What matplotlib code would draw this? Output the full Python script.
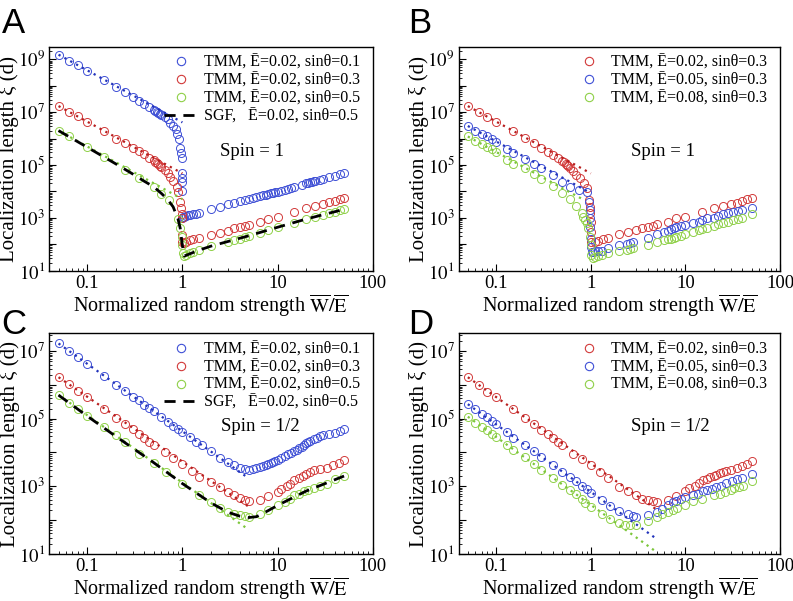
import math
import matplotlib
matplotlib.use('Agg')
import matplotlib.pyplot as plt
from matplotlib.lines import Line2D
from matplotlib.ticker import LogLocator, FixedLocator, FuncFormatter, NullFormatter

plt.rcParams['font.family'] = ['Liberation Serif', 'DejaVu Serif']
plt.rcParams['mathtext.fontset'] = 'stix'

# ---------------- DATA ---------------- #
# Panel A: spin 1, E=0.02, sin(theta) = 0.1 / 0.3 / 0.5
a_blue_x = [0.05, 0.065, 0.08, 0.1, 0.15, 0.2, 0.25, 0.3, 0.35, 0.4, 0.45, 0.5, 0.52, 0.54, 0.56, 0.58,
            0.6, 0.65, 0.7, 0.75, 0.8, 0.85, 0.88, 0.92, 0.95, 0.97, 0.98, 1.0, 1.0, 1.0, 1.0, 1.0, 1.02,
            1.05, 1.1, 1.15, 1.2, 1.3, 1.4, 1.5, 2, 2.5, 3, 3.5, 4, 4.5, 5, 5.5, 6, 6.5, 7, 7.5, 8, 8.5,
            9, 9.5, 10, 11, 12, 13, 14, 15, 18, 20, 21, 22, 23, 24, 25, 28, 30, 35, 40, 45, 50]
a_blue_y = [1.5e9, 9.0e8, 5.9e8, 3.7e8, 1.7e8, 9.2e7, 5.8e7, 3.8e7, 2.7e7, 2.0e7, 1.55e7, 1.2e7, 1.1e7,
            1.0e7, 9.3e6, 8.6e6, 8.0e6, 6.8e6, 5.3e6, 4.0e6, 3.0e6, 2.3e6, 1.5e6, 9.3e5, 4.3e5, 2.9e5,
            1.8e5, 4.8e4, 3.3e4, 2.3e4, 1.0e4, 1.0e3, 1.05e3, 1.12e3, 1.2e3, 1.26e3, 1.32e3, 1.38e3,
            1.45e3, 1.55e3, 2.14e3, 2.63e3, 3.24e3, 3.72e3, 4.27e3, 4.79e3, 5.37e3, 5.75e3, 6.31e3,
            6.76e3, 7.24e3, 7.59e3, 8.13e3, 8.51e3, 8.91e3, 9.33e3, 9.77e3, 1.07e4, 1.17e4, 1.26e4,
            1.35e4, 1.45e4, 1.78e4, 2.0e4, 2.09e4, 2.19e4, 2.29e4, 2.4e4, 2.51e4, 2.75e4, 2.88e4,
            3.39e4, 3.89e4, 4.37e4, 4.9e4]
a_red_x = [0.05, 0.065, 0.08, 0.1, 0.15, 0.2, 0.25, 0.3, 0.35, 0.4, 0.45, 0.5, 0.52, 0.54, 0.56, 0.58,
           0.6, 0.65, 0.7, 0.75, 0.8, 0.87, 0.9, 0.95, 0.97, 0.98, 1.0, 1.0, 1.0, 1.05, 1.1, 1.2, 1.3,
           1.5, 2, 2.5, 3, 3.5, 4, 4.5, 5, 6.5, 8, 10, 15, 20, 25, 30, 35, 40, 45, 50]
a_red_y = [1.7e7, 1.05e7, 7.3e6, 4.3e6, 1.9e6, 1.0e6, 6.6e5, 4.5e5, 3.4e5, 2.5e5, 1.9e5, 1.5e5, 1.35e5,
           1.2e5, 1.1e5, 9.5e4, 8.5e4, 6.5e4, 4.8e4, 3.6e4, 2.4e4, 1.5e4, 9.6e3, 4.0e3, 2.3e3, 1.35e3,
           950, 220, 120, 115, 117, 145, 160, 166, 220, 270, 320, 400, 450, 490, 530, 700, 890, 1.1e3,
           1.7e3, 2.3e3, 2.8e3, 3.3e3, 4.0e3, 4.5e3, 5.1e3, 5.8e3]
a_green_x = [0.05, 0.065, 0.1, 0.15, 0.25, 0.35, 0.5, 0.6, 0.72, 0.9, 0.95, 0.98, 1.0, 1.02, 1.05, 1.1,
             1.2, 1.3, 1.5, 2, 3, 3.5, 4, 4.5, 5, 6.5, 8, 10, 15, 20, 25, 30, 35, 40, 45, 50]
a_green_y = [2.0e6, 1.2e6, 4.7e5, 2.0e5, 6.5e4, 3.1e4, 1.5e4, 8.3e3, 4.7e3, 900, 400, 190, 93, 45, 36,
             40, 45, 50, 62, 85, 125, 145, 165, 185, 210, 270, 340, 440, 660, 870, 1.1e3, 1.3e3, 1.5e3,
             1.7e3, 1.9e3, 2.1e3]
a_sgf_x = [0.05, 0.1, 0.2, 0.3, 0.4, 0.5, 0.6, 0.7, 0.8, 0.9, 0.95, 1.0, 1.05, 1.5, 2, 5, 10, 20, 50]
a_sgf_y = [2.0e6, 4.7e5, 1.1e5, 4.6e4, 2.4e4, 1.5e4, 8.5e3, 5.0e3, 2.6e3, 900, 400, 90, 36, 60, 85, 210,
           440, 900, 2.1e3]
a_fit_x = [0.05, 1.0]
a_fit_blue = [1.5e9, 4.1e6]
a_fit_red = [1.7e7, 4.8e4]
a_fit_green = [2.0e6, 5.1e3]

# Panel B: spin 1, sin(theta)=0.3, E = 0.02 / 0.05 / 0.08
b_red_x = [0.05, 0.065, 0.08, 0.1, 0.15, 0.2, 0.25, 0.3, 0.35, 0.4, 0.45, 0.5, 0.52, 0.54, 0.56, 0.58,
           0.6, 0.65, 0.7, 0.77, 0.85, 0.9, 0.95, 0.97, 0.99, 1.0, 1.0, 1.0, 1.1, 1.2, 1.33, 1.5, 2, 2.5,
           3, 3.5, 4, 4.5, 5, 6.5, 8, 10, 15, 20, 25, 30, 35, 40, 45, 50]
b_red_y = [1.7e7, 1.05e7, 6.7e6, 4.4e6, 1.9e6, 1.07e6, 6.9e5, 4.5e5, 3.2e5, 2.4e5, 1.8e5, 1.4e5, 1.25e5,
           1.1e5, 1.0e5, 9.0e4, 8.0e4, 6.0e4, 4.2e4, 3.1e4, 2.0e4, 1.3e4, 4.7e3, 2.6e3, 1.5e3, 700, 300,
           120, 117, 130, 155, 175, 235, 295, 340, 400, 450, 500, 560, 700, 950, 1.1e3, 1.7e3, 2.3e3,
           2.8e3, 3.2e3, 3.7e3, 4.3e3, 5.0e3, 5.8e3]
b_blue_x = [0.05, 0.06, 0.07, 0.08, 0.09, 0.1, 0.13, 0.15, 0.2, 0.25, 0.3, 0.4, 0.5, 0.6, 0.75, 0.9,
            0.95, 0.97, 0.98, 0.99, 1.0, 1.0, 1.02, 1.05, 1.1, 1.2, 1.3, 1.5, 2, 2.4, 2.6, 2.8, 4, 5, 6,
            6.5, 7, 7.5, 8, 9, 10, 12, 14, 15, 17, 20, 22, 25, 28, 32, 36, 40, 50]
b_blue_y = [3.0e6, 1.9e6, 1.5e6, 1.2e6, 9.3e5, 7.2e5, 3.9e5, 2.8e5, 1.7e5, 1.07e5, 7.4e4, 4.2e4, 2.3e4,
            1.5e4, 1.1e4, 9.6e3, 4.0e3, 2.0e3, 1.0e3, 450, 160, 80, 49, 49, 54, 54, 55, 72, 93, 100, 113,
            123, 175, 235, 295, 330, 370, 400, 450, 490, 530, 620, 710, 810, 950, 1.0e3, 1.15e3, 1.35e3,
            1.5e3, 1.7e3, 1.85e3, 1.95e3, 2.4e3]
b_green_x = [0.05, 0.06, 0.07, 0.08, 0.09, 0.1, 0.13, 0.15, 0.2, 0.25, 0.3, 0.4, 0.5, 0.6, 0.7, 0.8,
             0.83, 0.86, 0.9, 0.93, 0.97, 1.0, 1.0, 1.05, 1.1, 1.2, 1.3, 1.5, 2, 2.4, 2.6, 2.8, 4, 5, 6,
             6.5, 7, 7.5, 8, 9, 10, 12, 14, 15, 17, 20, 22, 25, 28, 32, 36, 40, 50]
b_green_y = [1.2e6, 8.1e5, 6.2e5, 4.9e5, 3.9e5, 3.0e5, 1.5e5, 1.07e5, 7.4e4, 4.4e4, 2.9e4, 1.6e4, 8.8e3,
             5.1e3, 2.8e3, 1.5e3, 1.1e3, 810, 620, 400, 190, 93, 39, 30, 33, 35, 39, 45, 55, 60, 65, 72,
             93, 117, 140, 155, 165, 180, 190, 210, 235, 290, 340, 370, 420, 500, 560, 640, 720, 820,
             920, 1.0e3, 1.38e3]
b_fit_red_x, b_fit_red = [0.05, 1.0], [1.7e7, 4.8e4]
b_fit_blue_x, b_fit_blue = [0.05, 0.95], [3.0e6, 9.5e3]
b_fit_green_x, b_fit_green = [0.05, 0.85], [1.2e6, 4.7e3]

# Panel C: spin 1/2, E=0.02, sin(theta) = 0.1 / 0.3 / 0.5
c_blue_x = [0.05, 0.065, 0.08, 0.1, 0.15, 0.2, 0.25, 0.3, 0.35, 0.4, 0.45, 0.5, 0.6, 0.7, 0.8, 0.9, 1.0,
            1.2, 1.4, 1.6, 2, 2.5, 3, 3.5, 4, 4.5, 5, 5.5, 6, 6.5, 7, 7.5, 8, 8.5, 9, 9.5, 10, 11, 12,
            13, 14, 15, 16, 17, 18, 19, 20, 21, 22, 24, 26, 28, 30, 35, 40, 45, 50]
c_blue_y = [1.7e7, 1.05e7, 6.7e6, 4.3e6, 1.9e6, 1.02e6, 6.8e5, 4.5e5, 3.5e5, 2.6e5, 2.1e5, 1.7e5, 1.14e5,
            8.2e4, 6.3e4, 5.0e4, 4.0e4, 2.9e4, 2.1e4, 1.7e4, 1.1e4, 7.0e3, 5.3e3, 4.2e3, 3.5e3, 3.2e3,
            3.1e3, 3.2e3, 3.4e3, 3.6e3, 3.9e3, 4.2e3, 4.6e3, 5.0e3, 5.3e3, 5.6e3, 6.0e3, 6.8e3, 7.8e3,
            8.8e3, 9.8e3, 1.1e4, 1.2e4, 1.35e4, 1.5e4, 1.7e4, 1.9e4, 2.0e4, 2.2e4, 2.5e4, 2.7e4, 3.0e4,
            3.2e4, 3.5e4, 3.9e4, 4.4e4, 5.0e4]
c_red_x = [0.05, 0.065, 0.08, 0.1, 0.15, 0.2, 0.25, 0.3, 0.35, 0.4, 0.45, 0.5, 0.65, 0.8, 1.0, 1.25, 1.5,
           2, 2.5, 3, 3.5, 4, 4.5, 5, 6.5, 8, 10, 11, 12.5, 13.5, 15, 17, 18.5, 20, 22, 24, 28, 33, 38,
           44, 50]
c_red_y = [1.7e6, 1.07e6, 6.8e5, 4.4e5, 1.9e5, 1.02e5, 6.9e4, 4.9e4, 3.5e4, 2.7e4, 2.1e4, 1.7e4, 1.05e4,
           7.0e3, 4.7e3, 2.9e3, 1.9e3, 1.3e3, 940, 670, 540, 450, 380, 360, 400, 500, 680, 830, 1.0e3,
           1.17e3, 1.5e3, 1.8e3, 2.0e3, 2.3e3, 2.6e3, 3.0e3, 3.2e3, 3.5e3, 4.2e3, 5.0e3, 5.9e3]
c_green_x = [0.05, 0.065, 0.08, 0.1, 0.15, 0.2, 0.25, 0.35, 0.5, 0.67, 1.0, 1.5, 2, 2.5, 3, 3.5, 4, 4.5,
             5, 6.5, 8, 10, 12, 13.5, 15, 17, 19, 21, 24, 28, 33, 40, 50]
c_green_y = [5.1e5, 3.0e5, 2.0e5, 1.2e5, 5.6e4, 3.2e4, 2.0e4, 9.3e3, 5.0e3, 2.7e3, 1.2e3, 560, 340, 220,
             175, 150, 137, 130, 125, 150, 195, 275, 340, 430, 540, 600, 700, 780, 900, 1.05e3, 1.2e3,
             1.6e3, 2.0e3]
c_sgf_x = [0.05, 0.1, 0.2, 0.5, 1.0, 2, 3, 4, 5, 6, 8, 10, 20, 50]
c_sgf_y = [5.0e5, 1.2e5, 3.0e4, 5.0e3, 1.2e3, 320, 170, 130, 118, 125, 190, 270, 720, 2.0e3]
c_fit_x = [0.05, 5.0]
c_fit_blue = [1.7e7, 1.7e3]
c_fit_red = [1.7e6, 245]
c_fit_green = [5.1e5, 51]

# Panel D: spin 1/2, sin(theta)=0.3, E = 0.02 / 0.05 / 0.08
d_red_x = [0.05, 0.065, 0.08, 0.1, 0.15, 0.2, 0.25, 0.3, 0.35, 0.4, 0.45, 0.5, 0.65, 0.8, 1.0, 1.25, 1.5,
           2, 2.5, 3, 3.5, 4, 4.5, 5, 6.5, 8, 10, 11, 12.5, 14, 15.5, 17, 18, 20, 21, 23, 25, 27, 30, 35,
           40, 45, 50]
d_red_y = [1.7e6, 1.02e6, 6.4e5, 4.4e5, 1.9e5, 1.07e5, 6.9e4, 4.7e4, 3.5e4, 2.7e4, 2.1e4, 1.7e4, 9.3e3,
           6.6e3, 4.2e3, 2.7e3, 1.8e3, 970, 700, 540, 430, 380, 360, 340, 400, 500, 700, 890, 1.05e3,
           1.23e3, 1.48e3, 1.62e3, 1.82e3, 1.95e3, 2.19e3, 2.4e3, 2.57e3, 2.75e3, 3.0e3, 3.55e3, 4.0e3,
           4.7e3, 5.6e3]
d_blue_x = [0.05, 0.06, 0.07, 0.08, 0.09, 0.1, 0.13, 0.15, 0.2, 0.25, 0.3, 0.4, 0.5, 0.6, 0.7, 0.8, 0.9,
            1.0, 1.3, 1.6, 2, 2.5, 2.8, 3, 4, 5, 5.6, 6.5, 7.4, 8, 9, 10, 12, 13.7, 15.5, 17, 19, 21, 24,
            27, 31, 35, 40, 50]
d_blue_y = [2.7e5, 1.9e5, 1.4e5, 1.1e5, 8.5e4, 6.9e4, 4.0e4, 2.7e4, 1.7e4, 1.1e4, 7.4e3, 4.3e3, 2.7e3,
            1.9e3, 1.4e3, 1.05e3, 800, 650, 380, 260, 183, 155, 130, 125, 140, 175, 215, 275, 340, 370,
            420, 480, 540, 600, 710, 780, 830, 930, 1.05e3, 1.23e3, 1.4e3, 1.6e3, 1.8e3, 2.3e3]
d_green_x = [0.05, 0.06, 0.07, 0.08, 0.09, 0.1, 0.13, 0.15, 0.2, 0.25, 0.3, 0.4, 0.5, 0.6, 0.7, 0.8, 0.87,
             1.0, 1.3, 1.6, 2, 2.3, 2.6, 3, 4, 5, 5.6, 6.5, 7.4, 8.2, 10, 12, 15, 20, 23, 26, 30, 33, 37,
             41, 50]
d_green_y = [1.15e5, 7.7e4, 5.8e4, 4.7e4, 3.5e4, 2.8e4, 1.7e4, 1.15e4, 7.4e3, 4.5e3, 3.0e3, 1.7e3, 1.1e3,
             780, 580, 410, 320, 240, 150, 105, 80, 69, 69, 72, 96, 125, 155, 175, 195, 220, 275, 360,
             430, 540, 600, 680, 760, 870, 930, 1.05e3, 1.4e3]
d_fit_x = [0.05, 5.0]
d_fit_red = [1.7e6, 200]
d_fit_blue = [2.7e5, 27]
d_fit_green = [1.15e5, 11]

# ---------------- STYLE ---------------- #
BLUE, RED, GREEN = '#3f50d6', '#d23a3a', '#8fd048'
BLUE_FIT, RED_FIT, GREEN_FIT = '#2233bb', '#b81e1e', '#7cc63a'
EBAR = 'Ē'
SGF_LS = (0, (4, 2.8))

fig = plt.figure(figsize=(7.93, 6.01), dpi=100)


def ylabel_fmt(v, pos):
    e = int(round(math.log10(v)))
    return f'$10^{{{e}}}$' if e % 2 == 1 else ''


def setup(ax, ytop):
    ax.set_xscale('log')
    ax.set_yscale('log')
    ax.set_xlim(0.04, 100)
    ax.set_ylim(10, ytop)
    ax.xaxis.set_major_locator(FixedLocator([0.1, 1, 10, 100]))
    ax.xaxis.set_major_formatter(FuncFormatter(lambda v, p: f'{v:g}'))
    ax.xaxis.set_minor_locator(LogLocator(base=10, subs=range(2, 10), numticks=20))
    ax.xaxis.set_minor_formatter(NullFormatter())
    ax.yaxis.set_major_locator(LogLocator(base=10, numticks=20))
    ax.yaxis.set_major_formatter(FuncFormatter(ylabel_fmt))
    ax.yaxis.set_minor_locator(LogLocator(base=10, subs=range(2, 10), numticks=20))
    ax.yaxis.set_minor_formatter(NullFormatter())
    ax.tick_params(which='both', direction='in', top=False, right=False, labelsize=13.5)
    ax.tick_params(which='major', length=5, width=0.8, pad=3)
    ax.tick_params(which='minor', length=2.5, width=0.6)
    for s in ax.spines.values():
        s.set_linewidth(1.0)
    ax.set_xlabel(r'Normalized random strength $\overline{\mathrm{W}}/\overline{\mathrm{E}}$',
                  fontsize=14.5, labelpad=0)
    ax.set_ylabel('Localization length ξ (d)', fontsize=15, labelpad=-1)


def circles(ax, x, y, c):
    ax.plot(x, y, 'o', mfc='none', mec=c, ms=5.8, mew=0.7, ls='none')


def fit(ax, x, y, c):
    ax.plot(x, y, ls=(0, (1, 2)), lw=1.6, color=c)


def sgf(ax, x, y):
    ax.plot(x, y, ls=SGF_LS, lw=2.0, color='black')


def mk(c):
    return Line2D([], [], marker='o', ls='none', mfc='none', mec=c, ms=6, mew=0.8)


def add_legend(ax, handles, labels):
    ax.legend(handles, labels, loc='upper right', bbox_to_anchor=(0.985, 1.0), frameon=False,
              fontsize=11.5, handlelength=2.2, handletextpad=0.3, labelspacing=0.12,
              borderaxespad=0.1, borderpad=0.4)


# Panel A
axA = fig.add_axes([0.0622, 0.5496, 0.4078, 0.3727])
setup(axA, 3.0e9)
circles(axA, a_blue_x, a_blue_y, BLUE)
circles(axA, a_red_x, a_red_y, RED)
circles(axA, a_green_x, a_green_y, GREEN)
fit(axA, a_fit_x, a_fit_blue, BLUE_FIT)
fit(axA, a_fit_x, a_fit_red, RED_FIT)
fit(axA, a_fit_x, a_fit_green, GREEN_FIT)
sgf(axA, a_sgf_x, a_sgf_y)
add_legend(axA, [mk(BLUE), mk(RED), mk(GREEN), Line2D([], [], color='black', lw=2.0, ls=SGF_LS)],
           [f'TMM, {EBAR}=0.02, sinθ=0.1', f'TMM, {EBAR}=0.02, sinθ=0.3',
            f'TMM, {EBAR}=0.02, sinθ=0.5', f'SGF,   {EBAR}=0.02, sinθ=0.5'])
axA.text(0.626, 0.531, 'Spin = 1', transform=axA.transAxes, ha='center', va='center', fontsize=13.5)

# Panel B
axB = fig.add_axes([0.5784, 0.5496, 0.4052, 0.3727])
setup(axB, 3.0e9)
circles(axB, b_red_x, b_red_y, RED)
circles(axB, b_blue_x, b_blue_y, BLUE)
circles(axB, b_green_x, b_green_y, GREEN)
fit(axB, b_fit_red_x, b_fit_red, RED_FIT)
fit(axB, b_fit_blue_x, b_fit_blue, BLUE_FIT)
fit(axB, b_fit_green_x, b_fit_green, GREEN_FIT)
add_legend(axB, [mk(RED), mk(BLUE), mk(GREEN)],
           [f'TMM, {EBAR}=0.02, sinθ=0.3', f'TMM, {EBAR}=0.05, sinθ=0.3',
            f'TMM, {EBAR}=0.08, sinθ=0.3'])
axB.text(0.637, 0.531, 'Spin = 1', transform=axB.transAxes, ha='center', va='center', fontsize=13.5)

# Panel C
axC = fig.add_axes([0.0622, 0.0787, 0.4078, 0.3667])
setup(axC, 3.4e7)
circles(axC, c_blue_x, c_blue_y, BLUE)
circles(axC, c_red_x, c_red_y, RED)
circles(axC, c_green_x, c_green_y, GREEN)
fit(axC, c_fit_x, c_fit_blue, BLUE_FIT)
fit(axC, c_fit_x, c_fit_red, RED_FIT)
fit(axC, c_fit_x, c_fit_green, GREEN_FIT)
sgf(axC, c_sgf_x, c_sgf_y)
add_legend(axC, [mk(BLUE), mk(RED), mk(GREEN), Line2D([], [], color='black', lw=2.0, ls=SGF_LS)],
           [f'TMM, {EBAR}=0.02, sinθ=0.1', f'TMM, {EBAR}=0.02, sinθ=0.3',
            f'TMM, {EBAR}=0.02, sinθ=0.5', f'SGF,   {EBAR}=0.02, sinθ=0.5'])
axC.text(0.651, 0.577, 'Spin = 1/2', transform=axC.transAxes, ha='center', va='center', fontsize=13.5)

# Panel D
axD = fig.add_axes([0.5784, 0.0787, 0.4052, 0.3667])
setup(axD, 3.4e7)
circles(axD, d_red_x, d_red_y, RED)
circles(axD, d_blue_x, d_blue_y, BLUE)
circles(axD, d_green_x, d_green_y, GREEN)
fit(axD, d_fit_x, d_fit_red, RED_FIT)
fit(axD, d_fit_x, d_fit_blue, BLUE_FIT)
fit(axD, d_fit_x, d_fit_green, GREEN_FIT)
add_legend(axD, [mk(RED), mk(BLUE), mk(GREEN)],
           [f'TMM, {EBAR}=0.02, sinθ=0.3', f'TMM, {EBAR}=0.05, sinθ=0.3',
            f'TMM, {EBAR}=0.08, sinθ=0.3'])
axD.text(0.658, 0.577, 'Spin = 1/2', transform=axD.transAxes, ha='center', va='center', fontsize=13.5)

# panel letters
for lx, ly, letter in [(0.002, 0.988, 'A'), (0.515, 0.988, 'B'), (0.002, 0.487, 'C'), (0.515, 0.487, 'D')]:
    fig.text(lx, ly, letter, fontsize=25, family='Liberation Sans', ha='left', va='top')

fig.savefig('out.png', dpi=100)
